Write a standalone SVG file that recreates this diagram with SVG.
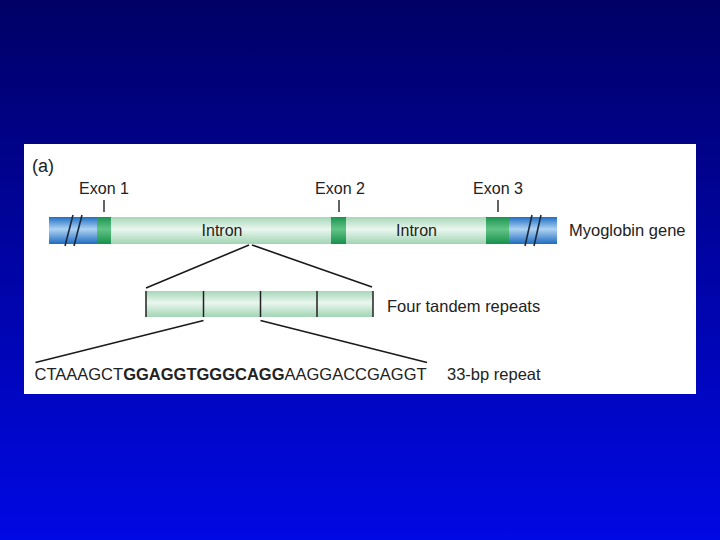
<svg xmlns="http://www.w3.org/2000/svg" width="720" height="540" viewBox="0 0 720 540">
<defs>
<linearGradient id="bg" x1="0" y1="0" x2="0" y2="1">
<stop offset="0" stop-color="#000066"/>
<stop offset="1" stop-color="#0008e4"/>
</linearGradient>
<linearGradient id="intron" x1="0" y1="0" x2="0" y2="1">
<stop offset="0" stop-color="#a6d6b8"/>
<stop offset="0.45" stop-color="#eaf7ef"/>
<stop offset="1" stop-color="#a2d4b4"/>
</linearGradient>
<linearGradient id="exon" x1="0" y1="0" x2="0" y2="1">
<stop offset="0" stop-color="#1b9450"/>
<stop offset="0.45" stop-color="#62c487"/>
<stop offset="1" stop-color="#17904c"/>
</linearGradient>
<linearGradient id="flank" x1="0" y1="0" x2="0" y2="1">
<stop offset="0" stop-color="#1f6fc4"/>
<stop offset="0.45" stop-color="#aed2f2"/>
<stop offset="1" stop-color="#1e6cc0"/>
</linearGradient>
<style>
text{font-family:"Liberation Sans",Arial,sans-serif;fill:#222;}
.lbl{font-size:16px;}
.lbl16{font-size:16.5px;}
.c{text-anchor:middle;}
.ln{stroke:#1a1a1a;stroke-width:1.6;fill:none;}
.tick{stroke:#222;stroke-width:1.4;}
.sl{stroke:#1a2a40;stroke-width:1.6;}
.div{stroke:#222;stroke-width:1.5;}
</style>
</defs>
<rect width="720" height="540" fill="url(#bg)"/>
<rect x="24" y="144" width="672" height="250" fill="#ffffff"/>
<text x="32" y="172" style="font-size:18px">(a)</text>

<g id="gene">
<rect x="49" y="217" width="508" height="27" fill="url(#intron)"/>
<rect x="49" y="217" width="48" height="27" fill="url(#flank)"/>
<rect x="509" y="217" width="48" height="27" fill="url(#flank)"/>
<rect x="97" y="217" width="14" height="27" fill="url(#exon)"/>
<rect x="331" y="217" width="15" height="27" fill="url(#exon)"/>
<rect x="486" y="217" width="23" height="27" fill="url(#exon)"/>
<line class="sl" x1="65" y1="246" x2="73" y2="215"/>
<line class="sl" x1="74" y1="246" x2="82" y2="215"/>
<line class="sl" x1="525" y1="246" x2="532" y2="215"/>
<line class="sl" x1="534" y1="246" x2="541" y2="215"/>
<text class="lbl c" x="222" y="236">Intron</text>
<text class="lbl c" x="416.5" y="236">Intron</text>
<text class="lbl16" x="569" y="236">Myoglobin gene</text>
</g>

<g id="exon1">
<text class="lbl c" x="104" y="194">Exon 1</text>
<line class="tick" x1="104" y1="200" x2="104" y2="212"/>
</g>
<g id="exon2">
<text class="lbl c" x="340" y="194">Exon 2</text>
<line class="tick" x1="339" y1="200" x2="339" y2="212"/>
</g>
<g id="exon3">
<text class="lbl c" x="498" y="194">Exon 3</text>
<line class="tick" x1="498" y1="200" x2="498" y2="212"/>
</g>

<g id="repeats">
<rect x="146" y="291" width="227" height="26" fill="url(#intron)"/>
<line class="div" x1="146" y1="291" x2="146" y2="317"/>
<line class="div" x1="373" y1="291" x2="373" y2="317"/>
<line class="div" x1="203.5" y1="291" x2="203.5" y2="317"/>
<line class="div" x1="260.5" y1="291" x2="260.5" y2="317"/>
<line class="div" x1="317" y1="291" x2="317" y2="317"/>
<text class="lbl16" x="387" y="312">Four tandem repeats</text>
</g>

<g id="sequence">
<text class="lbl16" x="34.5" y="380">CTAAAGCT<tspan font-weight="bold">GGAGGTGGGCAGG</tspan>AAGGACCGAGGT</text>
<text class="lbl16" x="447" y="380">33-bp repeat</text>
</g>

<g id="connectors">
<line class="ln" x1="249" y1="245" x2="146" y2="288"/>
<line class="ln" x1="252" y1="245" x2="372" y2="287"/>
<line class="ln" x1="203.5" y1="320.5" x2="35.5" y2="362.5"/>
<line class="ln" x1="260.5" y1="320.5" x2="427" y2="362.5"/>
</g>
</svg>
